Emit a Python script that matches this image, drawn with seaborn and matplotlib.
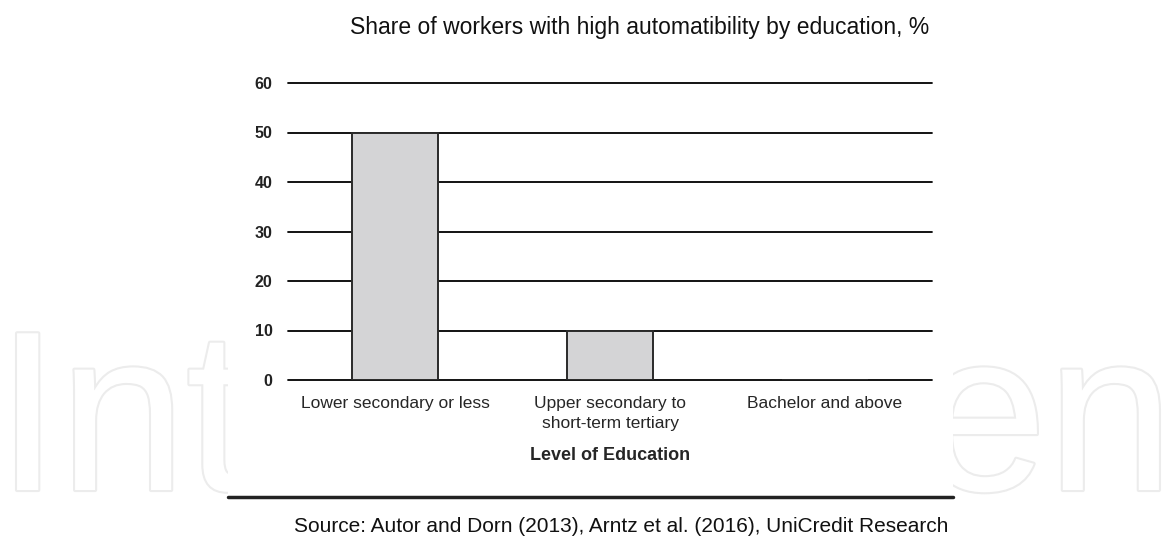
import matplotlib
matplotlib.use('Agg')
import matplotlib.pyplot as plt
import matplotlib.patheffects as pe
from matplotlib.patches import Rectangle
from matplotlib.lines import Line2D
import seaborn as sns

categories = ['Lower secondary or less',
              'Upper secondary to\nshort-term tertiary',
              'Bachelor and above']
shares = [50, 10, 0]
yticks = [0, 10, 20, 30, 40, 50, 60]

sns.set_style('white')
plt.rcParams['font.family'] = ['Liberation Sans', 'DejaVu Sans']

W, H = 1165, 538
fig = plt.figure(figsize=(W / 100, H / 100), dpi=100)

# faint outlined watermark behind a white panel
fig.text(-4 / W, 1 - 490 / H, 'IntechOpen', fontsize=164, color='white',
         ha='left', va='baseline', zorder=-3,
         path_effects=[pe.withStroke(linewidth=3, foreground='#ececec')])
fig.patches.append(Rectangle((228 / W, 0), (953 - 228) / W, 1,
                             transform=fig.transFigure, facecolor='white',
                             edgecolor='none', zorder=-2))

ax = fig.add_axes([288 / W, 1 - 380 / H, (932 - 288) / W, (380 - 83) / H])
sns.barplot(x=categories, y=shares, color='#d4d4d6', saturation=1,
            edgecolor='#2a2a2a', linewidth=1.4, width=0.4, ax=ax, zorder=3)

ax.set_ylim(0, 60)
ax.set_yticks(yticks)
ax.yaxis.grid(True, color='black', linewidth=1.3)
for gl in ax.get_ygridlines():
    gl.set_clip_on(False)
ax.set_axisbelow(True)
sns.despine(ax=ax, left=True, bottom=True)
ax.tick_params(axis='both', length=0)
ax.tick_params(axis='y', pad=11, labelsize=11.5)
ax.tick_params(axis='x', pad=11.5, labelsize=12.5)
for lab in ax.get_yticklabels():
    lab.set_fontweight('bold')
    lab.set_color('#222222')
for lab in ax.get_xticklabels():
    lab.set_linespacing(1.45)
ax.set_ylabel('')
ax.set_xlabel('Level of Education', fontsize=13, fontweight='bold', labelpad=11.5)

fig.text(640 / W, 1 - 28 / H, 'Share of workers with high automatibility by education, %',
         ha='center', va='center', fontsize=16.5, color='#111111')

fig.lines.append(Line2D([228 / W, 953 / W], [1 - 497 / H, 1 - 497 / H],
                        transform=fig.transFigure, color='#222222', linewidth=2.5))
fig.text(621 / W, 1 - 526 / H,
         'Source: Autor and Dorn (2013), Arntz et al. (2016), UniCredit Research',
         ha='center', va='center', fontsize=15, color='#111111')

fig.savefig('out.png', dpi=100, facecolor='white')
